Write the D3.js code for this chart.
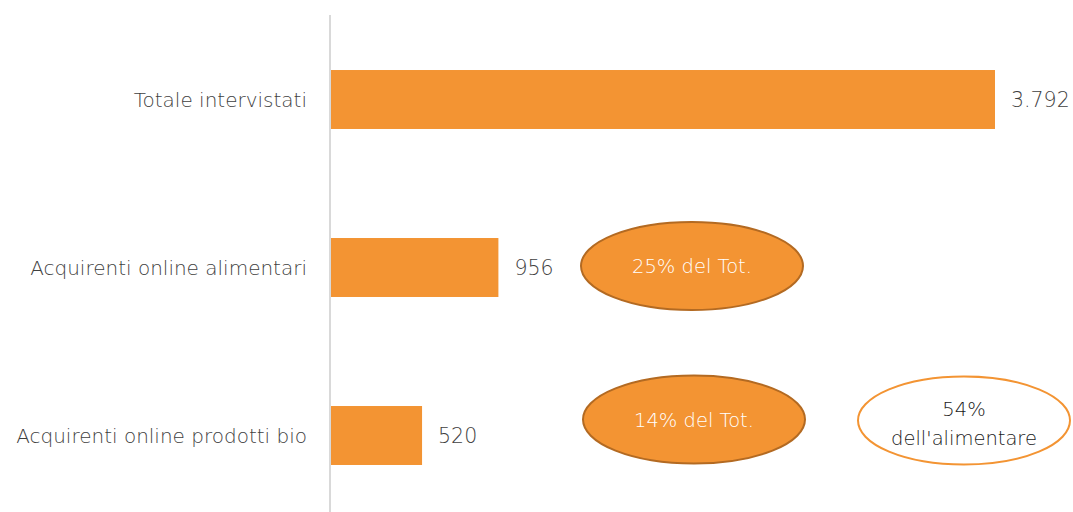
<!DOCTYPE html>
<html>
<head>
<meta charset="utf-8">
<script src="https://cdn.jsdelivr.net/npm/d3@7"></script>
<style>
  body { margin: 0; background: #fff; }
  svg { display: block; font-family: 'DejaVu Sans', sans-serif; }
</style>
</head>
<body>
<svg id="chart"></svg>
<script>
// data
const categories = ['Totale intervistati', 'Acquirenti online alimentari', 'Acquirenti online prodotti bio'];
const values = [3792, 956, 520];
const valueLabels = ['3.792', '956', '520'];
// callouts: which row, label lines, style
const callouts = [
  { row: 1, lines: ['25% del Tot.'], filled: true, cx: 692, dy: -1.5 },
  { row: 2, lines: ['14% del Tot.'], filled: true, cx: 694, dy: -16 },
  { row: 2, lines: ['54%', "dell'alimentare"], filled: false, cx: 964, dy: -15 },
];

const W = 1073, H = 512;
const svg = d3.select('#chart').attr('width', W).attr('height', H);
const margin = { left: 331, right: 78, top: 15.5, bottom: -7.5 };
const orange = '#F39433';
const textGray = '#3f3f3f';

const x = d3.scaleLinear().domain([0, 3792]).range([margin.left, 995]);
const y = d3.scaleBand().domain(categories).range([margin.top, H - margin.bottom]).paddingInner(0.649).paddingOuter(0.3245);

// vertical axis line
svg.append('line')
  .attr('x1', 330).attr('x2', 330)
  .attr('y1', 15).attr('y2', H)
  .attr('stroke', '#d9d9d9').attr('stroke-width', 2);

svg.append('g')
  .selectAll('rect')
  .data(values)
  .enter()
  .append('rect')
  .attr('x', x(0))
  .attr('y', (d, i) => y(categories[i]))
  .attr('width', d => x(d) - x(0))
  .attr('height', y.bandwidth())
  .attr('fill', orange);

// value labels
svg.append('g')
  .selectAll('text')
  .data(values)
  .enter()
  .append('text')
  .attr('x', d => x(d) + 16)
  .attr('y', (d, i) => y(categories[i]) + y.bandwidth() / 2)
  .attr('dy', '0.36em')
  .attr('font-size', 20.5)
  .attr('font-weight', 200)
  .attr('fill', textGray)
  .text((d, i) => valueLabels[i]);

// category labels
svg.append('g')
  .selectAll('text')
  .data(categories)
  .enter()
  .append('text')
  .attr('x', 307)
  .attr('y', d => y(d) + y.bandwidth() / 2)
  .attr('dy', '0.36em')
  .attr('text-anchor', 'end')
  .attr('font-size', 20)
  .attr('font-weight', 200)
  .attr('fill', textGray)
  .text(d => d);

// callout ellipses
const cg = svg.append('g')
  .selectAll('g')
  .data(callouts)
  .enter()
  .append('g')
  .attr('transform', d => `translate(${d.cx},${y(categories[d.row]) + y.bandwidth() / 2 + d.dy})`);

cg.append('ellipse')
  .attr('rx', d => d.filled ? 111 : 106)
  .attr('ry', 44)
  .attr('fill', d => d.filled ? orange : '#fff')
  .attr('stroke', d => d.filled ? '#B36A22' : orange)
  .attr('stroke-width', 2);

cg.each(function (d) {
  const n = d.lines.length;
  d3.select(this).selectAll('text')
    .data(d.lines)
    .enter()
    .append('text')
    .attr('text-anchor', 'middle')
    .attr('y', (t, i) => (i - (n - 1) / 2) * 29 + (n > 1 ? 3 : 0))
    .attr('dy', '0.36em')
    .attr('font-size', 19.5)
    .attr('font-weight', 200)
    .attr('fill', d.filled ? '#fff' : '#1a1a1a')
    .text(t => t);
});
</script>
</body>
</html>
